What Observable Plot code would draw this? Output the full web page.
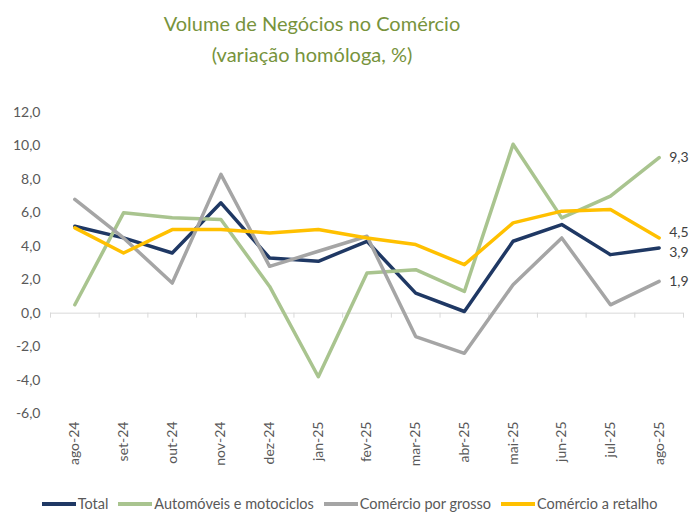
<!DOCTYPE html>
<html>
<head>
<meta charset="utf-8">
<script src="https://cdn.jsdelivr.net/npm/d3@7"></script>
<script src="https://cdn.jsdelivr.net/npm/@observablehq/plot@0.6"></script>
<style>
  html, body { margin: 0; padding: 0; background: #fff; }
  #wrap { position: relative; width: 689px; height: 513px; overflow: hidden; font-family: Lato, "Open Sans", sans-serif; }
  #title { position: absolute; top: 8px; left: 0; width: 624px; text-align: center; color: #77933C; font-size: 20px; line-height: 31px; }
  #chart { position: absolute; top: 95px; left: 0; }
  #legend { position: absolute; top: 496px; left: 0; width: 689px; display: flex; justify-content: center; gap: 10px; font-size: 14.5px; line-height: 16px; color: #595959; padding-left: 10px; box-sizing: border-box; }
  .item { display: flex; align-items: center; gap: 2px; white-space: nowrap; }
  .sw { display: inline-block; width: 34px; height: 4px; }
</style>
</head>
<body>
<div id="wrap">
  <div id="title">Volume de Negócios no Comércio<br>(variação homóloga, %)</div>
  <div id="chart"></div>
  <div id="legend"></div>
</div>
<script>
const months = ["ago-24","set-24","out-24","nov-24","dez-24","jan-25","fev-25","mar-25","abr-25","mai-25","jun-25","jul-25","ago-25"];
const total      = [5.2, 4.5, 3.6, 6.6, 3.3, 3.1, 4.3, 1.2, 0.1, 4.3, 5.3, 3.5, 3.9];
const automoveis = [0.5, 6.0, 5.7, 5.6, 1.6, -3.8, 2.4, 2.6, 1.3, 10.1, 5.7, 7.0, 9.3];
const grosso     = [6.8, 4.5, 1.8, 8.3, 2.8, 3.7, 4.6, -1.4, -2.4, 1.7, 4.5, 0.5, 1.9];
const retalho    = [5.1, 3.6, 5.0, 5.0, 4.8, 5.0, 4.5, 4.1, 2.9, 5.4, 6.1, 6.2, 4.5];
const seriesNames = ["Total", "Automóveis e motociclos", "Comércio por grosso", "Comércio a retalho"];
const seriesColors = ["#1F3864", "#A9C48F", "#A5A5A5", "#FFC000"];
const yTicks = [-6, -4, -2, 0, 2, 4, 6, 8, 10, 12];

const values = [total, automoveis, grosso, retalho];
const rows = seriesNames.flatMap((s, k) => values[k].map((v, i) => ({series: s, i, v})));
const last = months.length - 1;
const endRows = rows.filter(d => d.i === last);
const fmt = d => d.toFixed(1).replace(".", ",");
const bounds = months.map((m, i) => i - 0.5).concat([last + 0.5]);
const labelShift = {"Total": 5, "Comércio a retalho": -5, "Automóveis e motociclos": 0, "Comércio por grosso": 0};

const chart = Plot.plot({
  width: 689,
  height: 405,
  marginTop: 17,
  marginBottom: 87,
  marginLeft: 50,
  marginRight: 6,
  style: {fontFamily: "Lato, 'Open Sans', sans-serif", fontSize: "14px", color: "#595959", background: "#fff"},
  x: {type: "linear", domain: [-0.5, last + 0.5], ticks: months.map((m, i) => i), tickFormat: i => months[i], tickRotate: -90, tickSize: 0, tickPadding: 8, label: null},
  y: {domain: [-6, 12], ticks: yTicks, tickFormat: fmt, tickSize: 0, tickPadding: 10, label: null},
  color: {domain: seriesNames, range: seriesColors},
  marks: [
    Plot.ruleY([0], {stroke: "#D9D9D9", strokeWidth: 1}),
    Plot.ruleX(bounds, {x: d => d, y1: 0, y2: 0, insetBottom: -5, stroke: "#D9D9D9", strokeWidth: 1}),
    Plot.line(rows, {x: "i", y: "v", z: "series", stroke: "series", strokeWidth: 3.5, strokeLinejoin: "round", strokeLinecap: "round"}),
    ...endRows.map(d => Plot.text([d], {x: "i", y: "v", text: r => fmt(r.v), dx: 10, dy: labelShift[d.series], textAnchor: "start", fill: "#404040", fontSize: 14}))
  ]
});
document.getElementById("chart").appendChild(chart);

const legend = document.getElementById("legend");
seriesNames.forEach((s, k) => {
  const it = document.createElement("div");
  it.className = "item";
  const sw = document.createElement("span");
  sw.className = "sw";
  sw.style.background = seriesColors[k];
  const tx = document.createElement("span");
  tx.textContent = s;
  it.appendChild(sw); it.appendChild(tx);
  legend.appendChild(it);
});
</script>
</body>
</html>
